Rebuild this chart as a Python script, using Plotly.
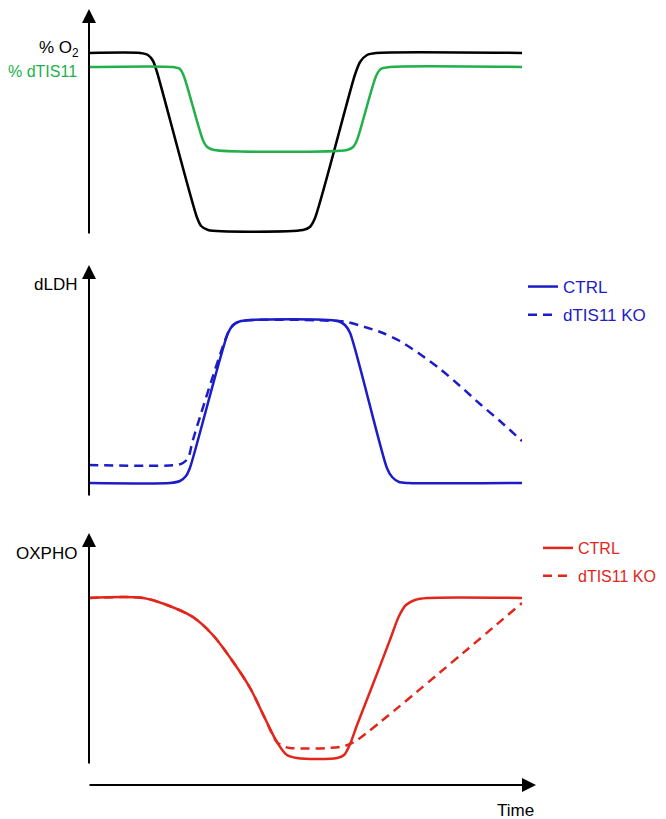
import plotly.graph_objects as go

# page body has an 8px default margin; the figure is sized and placed to compensate
OFF = 8
W, H = 666 - OFF, 819 - OFF

# ---------------- data (time units 0-100, arbitrary level units 0-100) ----------------
o2_t = [0, 11.8, 13.6, 14.8, 15.7, 24.9, 25.9, 27.5, 49.4, 51.0, 52.2, 61.4, 62.6, 64.2, 66.3, 100]
o2_y = [91, 91, 90, 87, 81.5, 9, 4.5, 2.5, 2.5, 4, 8.5, 80, 86.5, 90, 91, 91]

tis_t = [0, 19.4, 21.0, 21.9, 26.3, 27.3, 28.9, 59.6, 61.0, 61.9, 66.3, 67.4, 69.5, 100]
tis_y = [84, 84, 83, 79.5, 47.5, 44, 42.5, 42.5, 44, 47.5, 79.5, 83, 84, 84]

ldh_ctrl_t = [0, 18.7, 21.0, 22.4, 23.3, 32.1, 33.3, 35.1, 57.5, 59.1, 60.3, 68.8, 70.0, 71.6, 73.7, 100]
ldh_ctrl_y = [7, 7, 8, 10.5, 14.5, 82, 86, 88, 88, 86, 82, 14.5, 10, 7.5, 7, 7]

ldh_ko_t = [0, 20.3, 21.7, 22.9, 24.0, 32.1, 33.3, 35.1, 57.5, 59.6, 63.7, 67.9, 71.8,
            76.4, 81.1, 85.7, 90.3, 94.9, 100]
ldh_ko_y = [16, 16, 17, 19.5, 28.5, 82, 86, 88, 88, 87.5, 85, 82, 78,
            71.5, 64, 55.5, 46.5, 38, 28]

ox_ctrl_t = [0, 12.5, 18.0, 24.0, 28.6, 33.3, 37.2, 40.6, 43.4, 45.7, 48.0, 57.3, 58.9, 60.3,
             61.9, 65.6, 69.5, 71.6, 73.2, 75.3, 78.1, 100]
ox_ctrl_y = [83.5, 83.5, 80, 74, 65, 51.5, 38.5, 23.5, 11.5, 5, 3.5, 3.5, 5, 10.5,
             20, 40.5, 62.5, 74.5, 80, 82.5, 83.5, 83.5]

ox_ko_t = [0, 12.5, 18.0, 24.0, 28.6, 33.3, 37.2, 40.6, 43.4, 44.8, 46.4, 58.0, 60.3, 62.6, 100]
ox_ko_y = [83.5, 83.5, 80, 74, 65, 51.5, 38.5, 23.5, 11.5, 9.5, 8.5, 9, 10.5, 13.5, 81]

legend_names = ["CTRL", "dTIS11 KO"]

BLACK = "#000000"
GREEN = "#22b04a"
BLUE = "#1c1cc8"
RED = "#e2261c"
FONT = "Liberation Sans, Arial, sans-serif"
FS = 17


def px(x):
    return (x - OFF) / W


def py(y):
    return 1 - (y - OFF) / H


fig = go.Figure()

line_kw = dict(shape="spline", smoothing=0.7)

fig.add_trace(go.Scatter(x=o2_t, y=o2_y, mode="lines", xaxis="x", yaxis="y",
                         line=dict(color=BLACK, width=2.5, **line_kw), showlegend=False))
fig.add_trace(go.Scatter(x=tis_t, y=tis_y, mode="lines", xaxis="x", yaxis="y",
                         line=dict(color=GREEN, width=2.5, **line_kw), showlegend=False))

fig.add_trace(go.Scatter(x=ldh_ctrl_t, y=ldh_ctrl_y, mode="lines", xaxis="x", yaxis="y2",
                         name=legend_names[0], legend="legend", legendgroup="b1",
                         line=dict(color=BLUE, width=2.5, **line_kw)))
fig.add_trace(go.Scatter(x=ldh_ko_t, y=ldh_ko_y, mode="lines", xaxis="x", yaxis="y2",
                         name=legend_names[1], legend="legend", legendgroup="b2",
                         line=dict(color=BLUE, width=2.5, dash="9px,6px", shape="spline", smoothing=0.8)))

fig.add_trace(go.Scatter(x=ox_ctrl_t, y=ox_ctrl_y, mode="lines", xaxis="x", yaxis="y3",
                         name=legend_names[0], legend="legend2", legendgroup="r1",
                         line=dict(color=RED, width=2.5, shape="spline", smoothing=0.9)))
fig.add_trace(go.Scatter(x=ox_ko_t, y=ox_ko_y, mode="lines", xaxis="x", yaxis="y3",
                         name=legend_names[1], legend="legend2", legendgroup="r2",
                         line=dict(color=RED, width=2.5, dash="9px,6px", shape="spline", smoothing=0.9)))

ax_common = dict(showgrid=False, zeroline=False, showticklabels=False, ticks="",
                 showline=False, fixedrange=True)

fig.update_layout(
    width=W, height=H,
    margin=dict(l=0, r=0, t=0, b=0),
    paper_bgcolor="white", plot_bgcolor="rgba(0,0,0,0)",
    font=dict(family=FONT, size=FS, color="black"),
    xaxis=dict(domain=[px(89), px(522)], range=[0, 100], anchor="y3", **ax_common),
    yaxis=dict(domain=[py(235), py(35)], range=[0, 100], anchor="x", **ax_common),
    yaxis2=dict(domain=[py(497), py(297)], range=[0, 100], anchor="x", **ax_common),
    yaxis3=dict(domain=[py(765), py(565)], range=[0, 100], anchor="x", **ax_common),
    legend=dict(x=px(523), y=py(269), xanchor="left", yanchor="top",
                font=dict(family=FONT, size=FS, color=BLUE), bgcolor="rgba(0,0,0,0)",
                tracegroupgap=3, itemwidth=30),
    legend2=dict(x=px(538), y=py(531), xanchor="left", yanchor="top",
                 font=dict(family=FONT, size=16, color=RED), bgcolor="rgba(0,0,0,0)",
                 tracegroupgap=4, itemwidth=30),
)

# axis arrows
arrow_kw = dict(xref="paper", yref="paper", text="", showarrow=True, arrowhead=2,
                arrowsize=1.4, arrowwidth=2, arrowcolor="black", standoff=0)
fig.add_annotation(x=px(89), y=py(4), ax=0, ay=235 - 4, **arrow_kw)
fig.add_annotation(x=px(89), y=py(265), ax=0, ay=497 - 265, **arrow_kw)
fig.add_annotation(x=px(89), y=py(533), ax=0, ay=765 - 533, **arrow_kw)
fig.add_annotation(x=px(536), y=py(785), ax=-(536 - 88), ay=0, **arrow_kw)

# axis labels
lab_kw = dict(xref="paper", yref="paper", showarrow=False, xanchor="right", yanchor="middle")
fig.add_annotation(x=px(81), y=py(49), text="% O<sub>2</sub>", font=dict(family=FONT, size=FS, color="black"), **lab_kw)
fig.add_annotation(x=px(79), y=py(72), text="% dTIS11", font=dict(family=FONT, size=16, color=GREEN), **lab_kw)
fig.add_annotation(x=px(79), y=py(284), text="dLDH", font=dict(family=FONT, size=FS, color="black"), **lab_kw)
fig.add_annotation(x=px(79), y=py(553), text="OXPHO", font=dict(family=FONT, size=FS, color="black"), **lab_kw)
fig.add_annotation(x=px(515), y=py(810), text="Time", xref="paper", yref="paper", showarrow=False,
                   xanchor="center", yanchor="middle", font=dict(family=FONT, size=FS, color="black"))

fig.write_html("out.html")
